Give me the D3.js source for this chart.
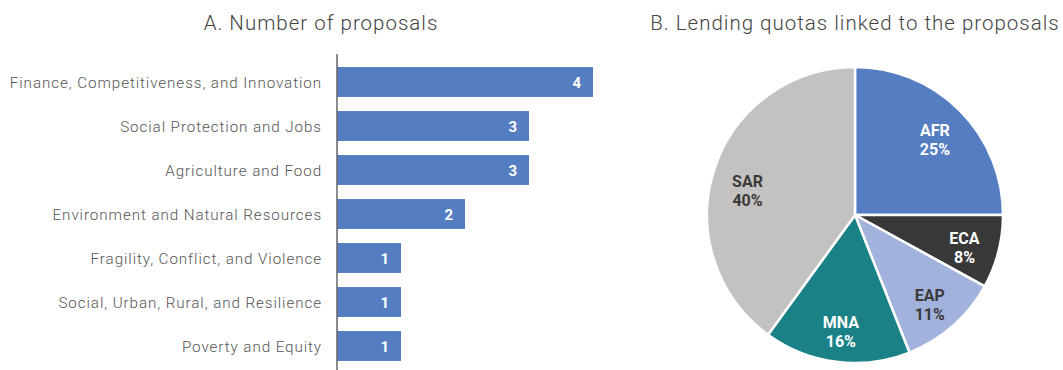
<!DOCTYPE html>
<html><head><meta charset="utf-8">
<script src="https://cdn.jsdelivr.net/npm/d3@7"></script>
<style>body{margin:0;background:#fff;}svg{display:block;font-family:Roboto,"Liberation Sans",sans-serif;}</style>
</head><body>
<svg id="c" width="1063" height="370"></svg>
<script>
const categories = ["Finance, Competitiveness, and Innovation","Social Protection and Jobs","Agriculture and Food","Environment and Natural Resources","Fragility, Conflict, and Violence","Social, Urban, Rural, and Resilience","Poverty and Equity"];
const proposals = [4,3,3,2,1,1,1];
const regions = ["AFR","ECA","EAP","MNA","SAR"];
const shares = [25,8,11,16,40];
const regionColors = ["#557ec2","#383838","#a1b3dc","#1a8287","#c3c2c1"];
const labelColors = ["#ffffff","#ffffff","#3a3a3a","#ffffff","#3a3a3a"];

const svg = d3.select("#c");

// Panel A
svg.append("text").attr("x",321).attr("y",30).attr("text-anchor","middle")
  .attr("font-size",20.5).attr("font-weight",300).attr("letter-spacing","1px").attr("fill","#444").text("A. Number of proposals");
const x = d3.scaleLinear().domain([0,4]).range([337,593]);
const y = d3.scaleBand().domain(categories).range([60,368]).paddingInner(0.32).paddingOuter(0.16);
const gA = svg.append("g");
gA.selectAll("rect").data(categories).join("rect")
  .attr("x",x(0)).attr("y",d=>y(d)).attr("width",(d,i)=>x(proposals[i])-x(0)).attr("height",y.bandwidth())
  .attr("fill","#557ec2");
gA.selectAll("text.v").data(categories).join("text").attr("class","v")
  .attr("x",(d,i)=>x(proposals[i])-12).attr("y",d=>y(d)+y.bandwidth()/2).attr("dy","0.4em")
  .attr("text-anchor","end").attr("font-size",15).attr("font-weight",700).attr("fill","#fff")
  .text((d,i)=>proposals[i]);
const axis = d3.axisLeft(y).tickSize(0).tickPadding(15);
const ag = svg.append("g").attr("transform",`translate(${x(0)},0)`).call(axis);
ag.select(".domain").attr("stroke","#666").attr("stroke-width",1.5).attr("d","M0,54V370");
ag.selectAll("text").attr("font-size",15.2).attr("fill","#555").attr("font-family","Roboto,sans-serif")
  .attr("font-weight",300).attr("letter-spacing","0.92px").attr("dy","0.4em");

// Panel B
svg.append("text").attr("x",855).attr("y",30).attr("text-anchor","middle")
  .attr("font-size",20.5).attr("font-weight",300).attr("letter-spacing","1px").attr("fill","#444").text("B. Lending quotas linked to the proposals");
const cx=855, cy=215, r=148;
const pie = d3.pie().sort(null).value(d=>d)(shares);
const arc = d3.arc().innerRadius(0).outerRadius(r);
const lab = d3.arc().innerRadius(113).outerRadius(113);
const gB = svg.append("g").attr("transform",`translate(${cx},${cy})`);
gB.selectAll("path").data(pie).join("path").attr("d",arc)
  .attr("fill",(d,i)=>regionColors[i]).attr("stroke","#fff").attr("stroke-width",2.5);
const lt = gB.selectAll("text").data(pie).join("text")
  .attr("transform",d=>{const c=lab.centroid(d);return `translate(${c[0]},${c[1]+(c[0]<-60&&c[1]<0?7:1)})`;})
  .attr("text-anchor","middle")
  .attr("font-size",16).attr("font-weight",700).attr("fill",(d,i)=>labelColors[i]);
lt.append("tspan").attr("x",0).attr("dy","0em").text((d,i)=>regions[i]);
lt.append("tspan").attr("x",0).attr("dy","1.2em").text((d,i)=>shares[i]+"%");
</script>
</body></html>
